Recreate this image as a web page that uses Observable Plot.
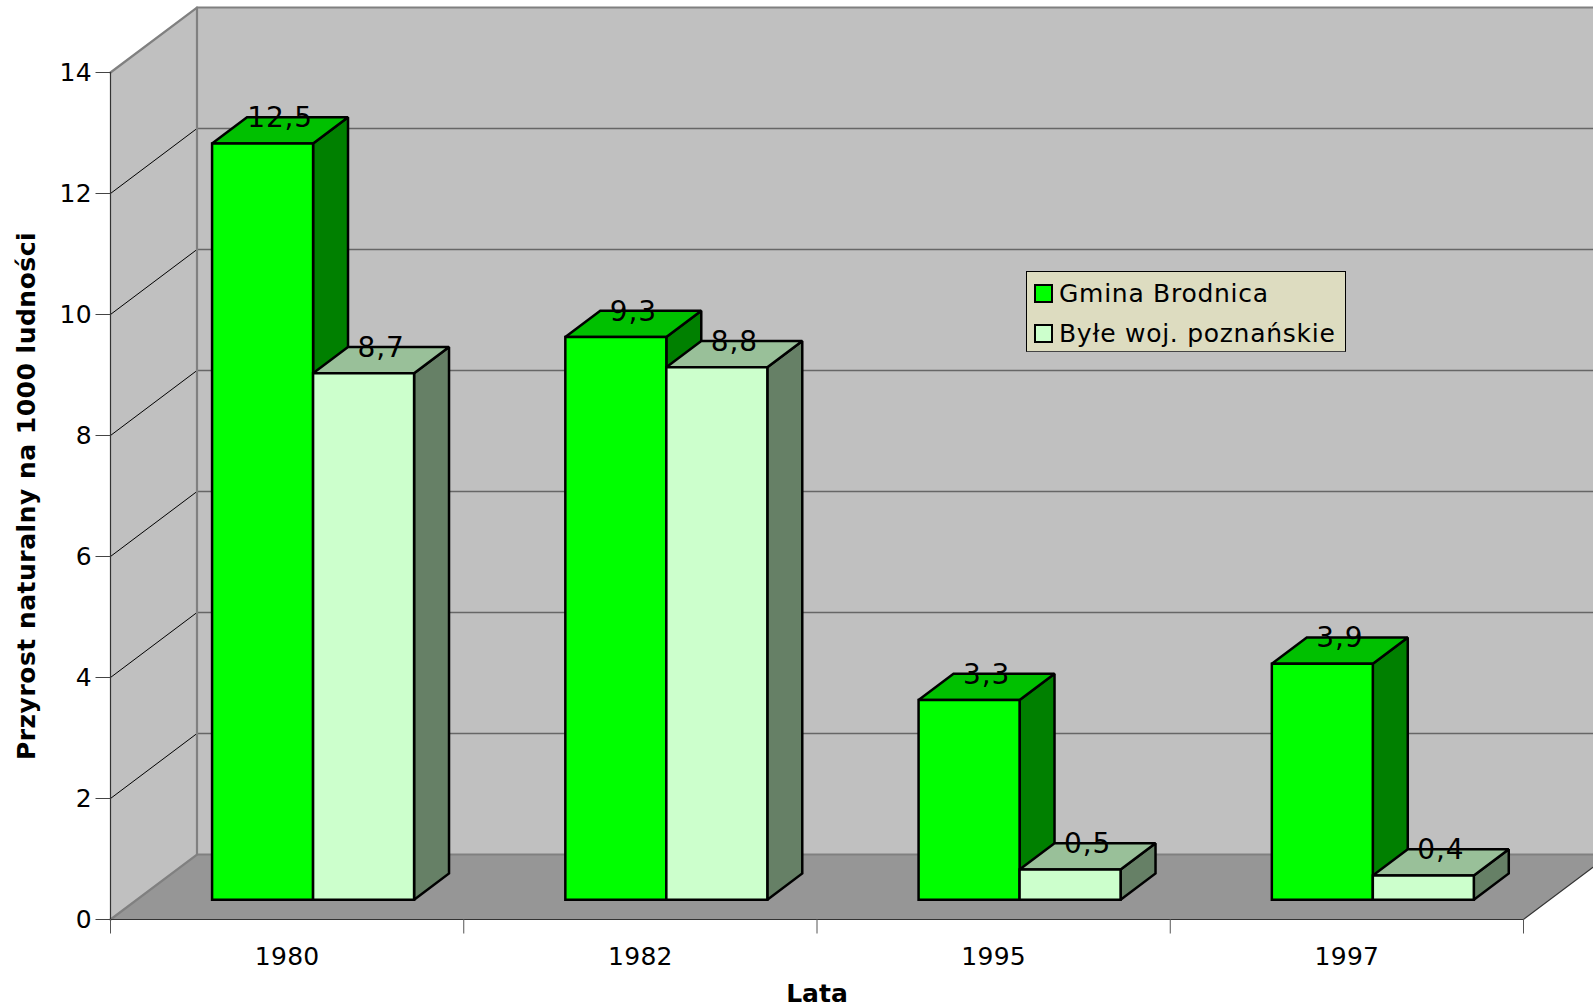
<!DOCTYPE html>
<html lang="pl">
<head>
<meta charset="utf-8">
<script src="https://cdn.jsdelivr.net/npm/d3@7"></script>
<script src="https://cdn.jsdelivr.net/npm/@observablehq/plot@0.6"></script>
<style>
html,body{margin:0;padding:0;background:#fff;overflow:hidden}
#wrap{position:relative;width:1593px;height:1008px;font-family:"DejaVu Sans",sans-serif}
#legend{position:absolute;left:1026px;top:271px;width:318px;height:79px;background:#dddcc0;border:1px solid #000;border-bottom-color:#444;box-sizing:content-box;color:#000;font-size:25px;letter-spacing:.72px}
#legend .row{position:absolute;left:7px;display:flex;align-items:center;height:26px;white-space:nowrap}
#legend .sw{width:15px;height:15px;border:2px solid #000;margin-right:6px;display:inline-block}
</style>
</head>
<body>
<div id="wrap">
<div id="legend">
  <div class="row" style="top:8px"><span class="sw" style="background:#00ff00"></span><span id="l1"></span></div>
  <div class="row" style="top:48px"><span class="sw" style="background:#ccffcc"></span><span id="l2"></span></div>
</div>
</div>
<script>
const categories = ["1980", "1982", "1995", "1997"];
const seriesNames = ["Gmina Brodnica", "Byłe woj. poznańskie"];
const gminaBrodnica = [12.5, 9.3, 3.3, 3.9];
const byleWoj = [8.7, 8.8, 0.5, 0.4];
const yTicks = [0, 2, 4, 6, 8, 10, 12, 14];
const xTicks = [0, 1, 2, 3, 4];
const yTitle = "Przyrost naturalny na 1000 ludności";
const xTitle = "Lata";

document.getElementById("l1").textContent = seriesNames[0];
document.getElementById("l2").textContent = seriesNames[1];

// Perspective of the 3D box, in data units (one category wide, one y unit tall)
const bandPx = 353.25, unitPx = 60.5, x0Px = 110, y0Px = 919;
const wallDx = 86.5 / bandPx, wallDy = 65 / unitPx;
const barW = 101 / bandPx;
const frontDepth = 0.3, barDepth = 0.404;
const series = [
  {values: gminaBrodnica, front: "#00ff00", top: "#00c000", side: "#008000"},
  {values: byleWoj, front: "#ccffcc", top: "#99c099", side: "#668066"}
];
const P = (x, y, depth = 0) => [x + depth * wallDx, y + depth * wallDy];
let polyId = 0;
const facePoints = (corners, fill) => {
  const id = polyId++;
  return corners.map(([x, y]) => ({x, y, id, fill}));
};

const walls = [
  ...facePoints([P(0,0), P(4,0), P(4,0,1), P(0,0,1)], "#969696"),
  ...facePoints([P(0,0,1), P(4,0,1), P(4,14,1), P(0,14,1)], "#c0c0c0"),
  ...facePoints([P(0,0), P(0,0,1), P(0,14,1), P(0,14)], "#c0c0c0")
];

const bars = [], labels = [];
categories.forEach((c, i) => {
  series.forEach((s, k) => {
    const v = s.values[i];
    const a = i + 0.5 - barW + k * barW, b = a + barW;
    const d0 = frontDepth, d1 = frontDepth + barDepth;
    const [ax0] = P(a, 0, d0), [bx0] = P(b, 0, d0), [ax1] = P(a, 0, d1), [bx1] = P(b, 0, d1);
    const yf0 = d0 * wallDy + 0.005, yb0 = d1 * wallDy + 0.005;
    bars.push(...facePoints([[bx0, yf0], [bx1, yb0], [bx1, v + yb0], [bx0, v + yf0]], s.side));
    bars.push(...facePoints([[ax0, v + yf0], [bx0, v + yf0], [bx1, v + yb0], [ax1, v + yb0]], s.top));
    bars.push(...facePoints([[ax0, yf0], [bx0, yf0], [bx0, v + yf0], [ax0, v + yf0]], s.front));
    labels.push({x: (ax0 + bx1) / 2, y: v + yb0, text: String(v).replace(".", ",")});
  });
});

const segs = (arr) => arr.flatMap((pts, id) => pts.map(([x, y]) => ({x, y, id})));
const backGrid = segs(yTicks.slice(1, -1).map(t => [P(0, t, 1), P(4, t, 1)]));
const sideGrid = segs(yTicks.slice(1, -1).map(t => [P(0, t), P(0, t, 1)]));
const grayEdges = segs([
  [P(0,14), P(0,14,1), P(4.2,14,1)],
  [P(0,14,1), P(0,0,1)],
  [P(0,0), P(0,0,1), P(4.2,0,1)]
]);
const darkEdges = segs([
  [P(0,14), P(0,0)],
  [P(0,0), P(4,0), P(4,0,1)]
]);
const XY = {x: "x", y: "y", z: "id"};

const chart = Plot.plot({
  width: 1593, height: 1008,
  marginLeft: 0, marginRight: 0, marginTop: 0, marginBottom: 1008 - y0Px,
  style: {background: "white", fontFamily: "'DejaVu Sans', sans-serif", color: "#000"},
  x: {type: "linear", domain: [0, (1593 - x0Px) / bandPx], range: [x0Px, 1593], axis: null},
  y: {type: "linear", domain: [0, y0Px / unitPx], range: [y0Px, 0], axis: null},
  color: {type: "identity"},
  marks: [
    Plot.line(walls, {...XY, fill: "fill", stroke: "none", curve: "linear-closed"}),
    Plot.line(backGrid, {...XY, stroke: "#666", strokeWidth: 1.6}),
    Plot.line(sideGrid, {...XY, stroke: "#000", strokeWidth: 1}),
    Plot.line(grayEdges, {...XY, stroke: "#808080", strokeWidth: 2.2, strokeLinejoin: "miter", strokeMiterlimit: 10}),
    Plot.line(darkEdges, {...XY, stroke: "#333", strokeWidth: 1.2, strokeLinejoin: "miter", strokeMiterlimit: 10}),
    Plot.axisY({ticks: yTicks, tickSize: 14.5, tickPadding: 4, fontSize: 25, label: null, stroke: "#444", anchor: "left", tickFormat: d3.format("d"), x: 0}),
    Plot.axisX({ticks: xTicks, tickSize: 14.5, tickFormat: () => "", label: null, stroke: "#555", anchor: "bottom"}),
    Plot.axisX({ticks: categories.map((c, i) => i + 0.5), tickSize: 0, tickPadding: 28, fontSize: 25, label: null, tickFormat: d => categories[d - 0.5], anchor: "bottom"}),
    Plot.line(bars, {...XY, fill: "fill", stroke: "#000", strokeWidth: 2.5, strokeLinejoin: "miter", strokeMiterlimit: 2, curve: "linear-closed"}),
    Plot.text(labels, {x: "x", y: "y", text: "text", fontSize: 28, dy: 1, fill: "#000", textAnchor: "middle", lineAnchor: "middle"}),
    Plot.text([yTitle], {y: () => 7, frameAnchor: "left", dx: 26, rotate: -90, fontSize: 25, fontWeight: "bold", fill: "#000", textAnchor: "middle"}),
    Plot.text([xTitle], {x: () => 2, y: () => 0, dy: 74, fontSize: 25, fontWeight: "bold", fill: "#000", textAnchor: "middle"})
  ]
});
// Reference font is a little wider than DejaVu Sans: widen through letter spacing
const labelTexts = new Set(labels.map(d => d.text));
d3.select(chart).selectAll("text").each(function() {
  const t = this.textContent;
  if (t === yTitle) this.style.letterSpacing = "0.5px";
  else if (labelTexts.has(t)) this.style.letterSpacing = "0.8px";
  else if (categories.includes(t) || yTicks.map(String).includes(t)) this.style.letterSpacing = "0.3px";
});
document.getElementById("wrap").prepend(chart);
</script>
</body>
</html>
